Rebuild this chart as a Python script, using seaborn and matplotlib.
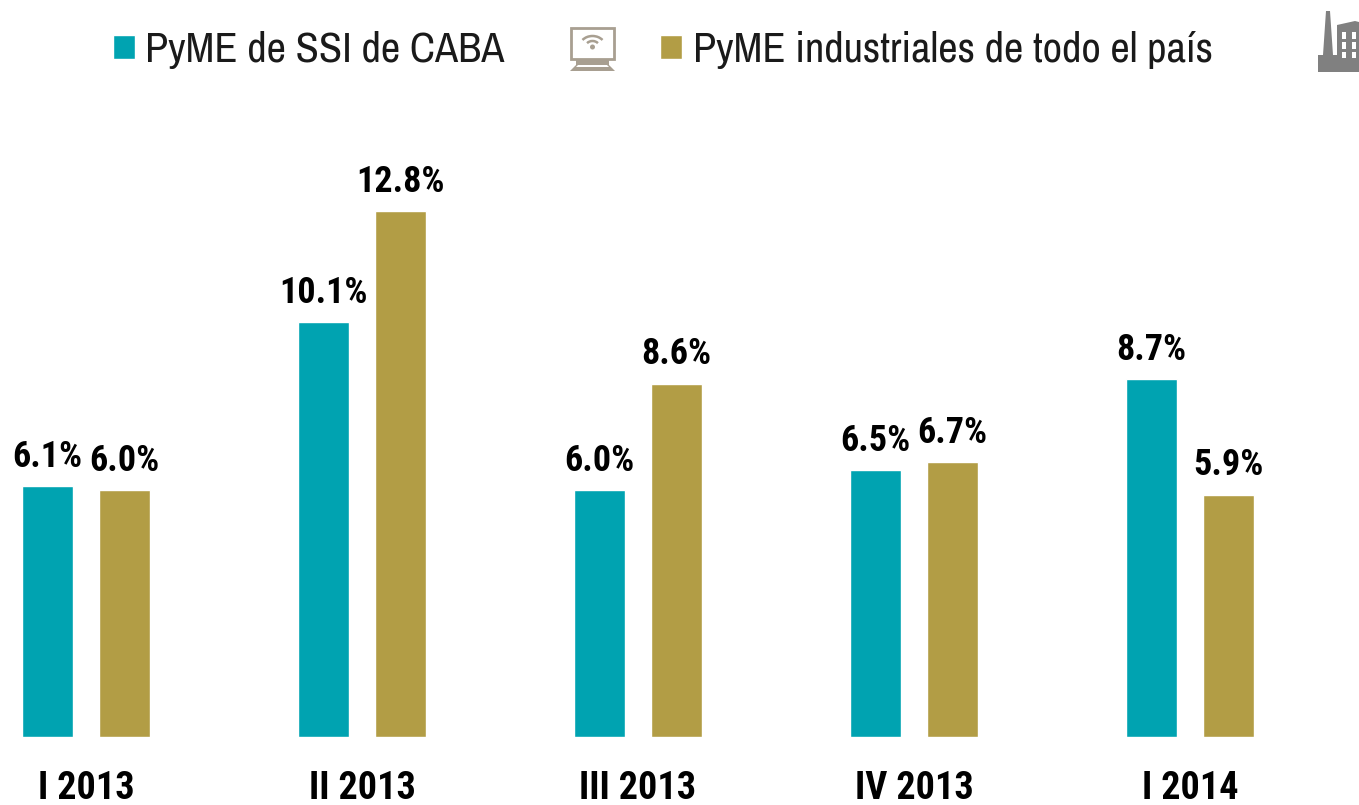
import matplotlib
matplotlib.use('Agg')
import matplotlib.pyplot as plt
from matplotlib.patches import Polygon, Rectangle, Circle, Arc
import pandas as pd
import seaborn as sns
import logging

logging.getLogger('matplotlib.font_manager').setLevel(logging.ERROR)

# datos
trimestres = ['I 2013', 'II 2013', 'III 2013', 'IV 2013', 'I 2014']
pyme_ssi = [6.1, 10.1, 6.0, 6.5, 8.7]
pyme_industria = [6.0, 12.8, 8.6, 6.7, 5.9]
serie_ssi = 'PyME de SSI de CABA'
serie_industria = 'PyME industriales de todo el país'

colores = {serie_ssi: '#00A3B1', serie_industria: '#B29D45'}

df = pd.DataFrame({
    'trimestre': trimestres * 2,
    'serie': [serie_ssi] * 5 + [serie_industria] * 5,
    'valor': pyme_ssi + pyme_industria,
})

sns.set_theme(style='white')
plt.rcParams['font.family'] = ['Archivo Narrow', 'Liberation Sans', 'DejaVu Sans']
fuente_negrita = ['Roboto Condensed', 'Liberation Sans', 'DejaVu Sans']

fig = plt.figure(figsize=(13.59, 8.05), dpi=100, facecolor='white')
ax = fig.add_axes([0, 68 / 805, 1, 737 / 805])

sns.barplot(data=df, x='trimestre', y='valor', hue='serie', order=trimestres,
            hue_order=[serie_ssi, serie_industria], palette=colores,
            width=0.558, gap=0.35, saturation=1, ax=ax, legend=True)

ax.set_xlim(-86 / 276, (1359 - 86) / 276)
ax.set_ylim(0, 737 / 41.1)
ax.set_xlabel('')
ax.set_ylabel('')
ax.set_yticks([])
sns.despine(ax=ax, left=True, bottom=True)
ax.tick_params(axis='x', length=0, pad=23.5)
for lab in ax.get_xticklabels():
    lab.set_fontsize(27.5)
    lab.set_fontweight('bold')
    lab.set_family(fuente_negrita)
    lab.set_color('black')

for cont in ax.containers:
    ax.bar_label(cont, fmt='%.1f%%', padding=8, fontsize=26, fontweight='bold',
                 family=fuente_negrita, color='black')

handles, labels = ax.get_legend_handles_labels()
ax.legend(handles, labels, ncol=2, frameon=False, fontsize=30.5, loc='center left',
          bbox_to_anchor=(113 / 1359, (737 - 50) / 737), borderaxespad=0, borderpad=0,
          handlelength=0.52, handleheight=0.52, handletextpad=0.24, columnspacing=3.68,
          labelcolor='#1a1a1a')

# iconos de la leyenda, en pixeles
ic = fig.add_axes([0, 0, 1, 1], facecolor='none')
ic.set_xlim(0, 1359)
ic.set_ylim(805, 0)
ic.axis('off')

gris_pc = '#A89F91'
ic.add_patch(Rectangle((571, 28), 43, 31, fc='white', ec=gris_pc, lw=2))
ic.add_patch(Polygon([(576, 59), (609, 59), (609, 65), (615, 71), (570, 71), (576, 65)], fc=gris_pc, ec='none'))
ic.add_patch(Polygon([(578, 65), (607, 65), (609, 67), (576, 67)], fc='white', ec='none'))
ic.add_patch(Circle((592.5, 47), 2.5, fc=gris_pc, ec='none'))
ic.add_patch(Arc((592.5, 47), 14, 12, theta1=215, theta2=325, ec=gris_pc, lw=1.8))
ic.add_patch(Arc((592.5, 47), 26, 22, theta1=215, theta2=325, ec=gris_pc, lw=1.8))

gris_fab = '#808080'
ic.add_patch(Polygon([(1326, 11), (1330, 11), (1333, 55), (1337, 55), (1337, 25), (1355, 21), (1359, 22),
                      (1359, 72), (1318, 72), (1318, 55), (1323, 55)], fc=gris_fab, ec='none'))
for x in (1342, 1352):
    for y0, y1 in ((32, 39), (42, 49), (52, 58)):
        ic.add_patch(Rectangle((x, y0), 3.5, y1 - y0, fc='white', ec='none'))

fig.savefig('out.png', dpi=100)
